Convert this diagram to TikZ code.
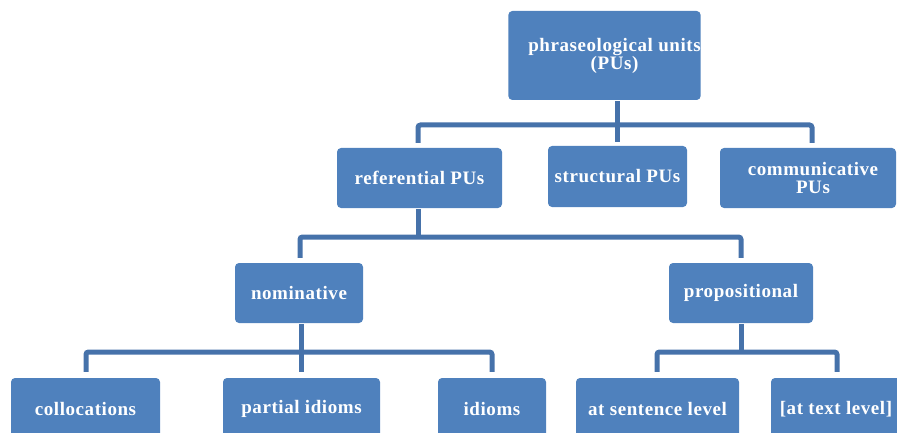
\documentclass[tikz,border=0pt]{standalone}
\usepackage{fontspec}
\setmainfont{Liberation Serif}[LetterSpace=3]
\definecolor{boxblue}{HTML}{4F81BD}
\definecolor{lineblue}{HTML}{4672AA}
\begin{document}
\begin{tikzpicture}[x=1pt,y=-1pt,
  box/.style={draw=none, fill=boxblue, rounded corners=4pt, text=white,
    font=\fontsize{19}{19}\selectfont\bfseries, align=center, inner sep=0pt},
  conn/.style={draw=lineblue, line width=5pt, rounded corners=2.5pt}]
\useasboundingbox (0,0) rectangle (897,433);
% boxes
\node[box, minimum width=185pt, minimum height=89pt] (top) at (604.5,55.5) {\hspace*{20pt}phraseological units\\[-1pt]\hspace*{20pt}(PUs)};
\node[box, minimum width=165pt, minimum height=60pt] (ref) at (419.5,178) {referential PUs};
\node[box, minimum width=139pt, minimum height=61pt] (str) at (617.5,176.5) {structural PUs};
\node[box, minimum width=176pt, minimum height=60pt] (com) at (808,178) {\hspace*{10pt}communicative\\[-1pt]\hspace*{10pt}PUs};
\node[box, minimum width=128pt, minimum height=60pt] (nom) at (299,293) {nominative};
\node[box, minimum width=144pt, minimum height=60pt] (pro) at (741,293) {propositional};
\node[box, minimum width=149pt, minimum height=62pt] (col) at (85.5,409) {collocations};
\node[box, minimum width=157pt, minimum height=62pt] (par) at (301.5,409) {partial idioms};
\node[box, minimum width=108pt, minimum height=62pt] (idi) at (492,409) {idioms};
\node[box, minimum width=163pt, minimum height=62pt] (sen) at (657.5,409) {at sentence level};
\node[box, minimum width=130pt, minimum height=62pt] (txt) at (836,409) {[at text level]};
% bus coordinates
\coordinate (b1) at (617,125);
\coordinate (b2) at (418,237);
\coordinate (b3) at (301,352);
\coordinate (b4) at (741,352);
% connectors level 1
\draw[conn] ([xshift=12.5pt,yshift=-1pt]top.south) -- ([xshift=-0.5pt,yshift=4pt]str.north);
\draw[conn] ([xshift=-1.5pt,yshift=5pt]ref.north) |- (b1) -| ([xshift=4pt,yshift=5pt]com.north);
% level 2
\draw[conn] ([xshift=-1.5pt,yshift=-1pt]ref.south) -- (b2);
\draw[conn] ([xshift=1pt,yshift=5pt]nom.north) |- (b2) -| ([yshift=5pt]pro.north);
% level 3 left
\draw[conn] ([xshift=2pt,yshift=-1pt]nom.south) -- (b3);
\draw[conn] ([xshift=-0.5pt,yshift=6pt]par.north) -- (b3);
\draw[conn] ([xshift=0.5pt,yshift=6pt]col.north) |- (b3) -| ([yshift=6pt]idi.north);
% level 3 right
\draw[conn] ([yshift=-1pt]pro.south) -- (b4);
\draw[conn] ([xshift=-0.5pt,yshift=6pt]sen.north) |- (b4) -| ([xshift=1pt,yshift=6pt]txt.north);
\end{tikzpicture}
\end{document}
